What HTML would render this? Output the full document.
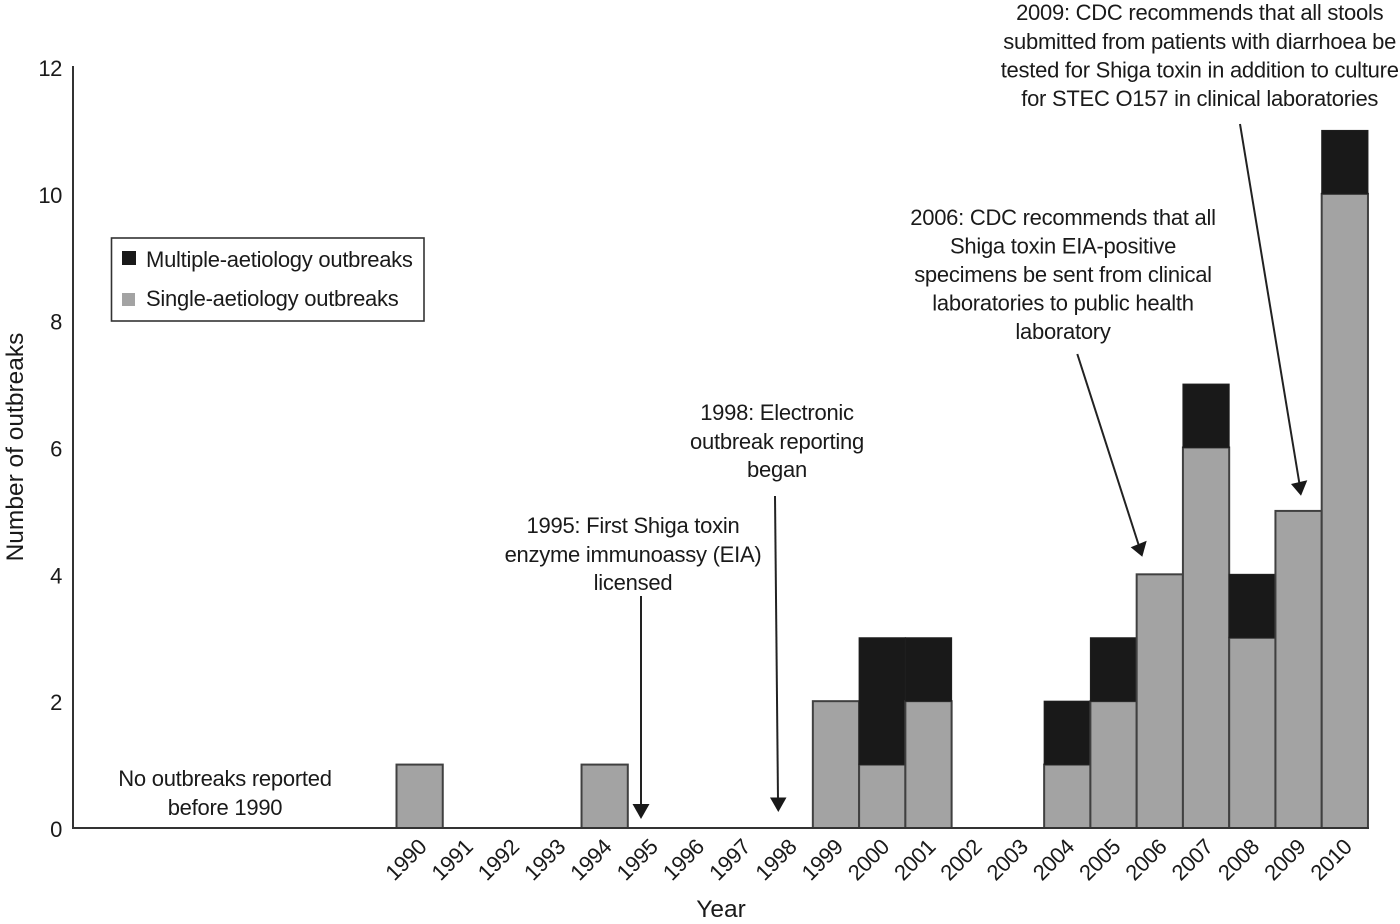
<!DOCTYPE html>
<html lang="en">
<head>
<meta charset="utf-8">
<title>Outbreaks by year</title>
<style>
html,body{margin:0;padding:0;background:#fff;}
svg{display:block;}
text{font-family:"Liberation Sans",sans-serif;font-size:22px;letter-spacing:-0.26px;fill:#1a1a1a;}
text.axis-title{font-size:24.5px;letter-spacing:0;}
text.tick{font-size:22px;letter-spacing:-0.4px;}
</style>
</head>
<body>
<svg id="chart" xmlns="http://www.w3.org/2000/svg" width="1400" height="924" viewBox="0 0 1400 924">
  <g id="bars"></g>
  <g id="axes"></g>

  <g>
    <rect x="111.5" y="238" width="312.5" height="83" fill="#fff" stroke="#333" stroke-width="1.6"/>
    <rect x="122" y="251" width="14" height="14" fill="#191919"/>
    <text x="146" y="267">Multiple-aetiology outbreaks</text>
    <rect x="122" y="293" width="13" height="13" fill="#a3a3a3"/>
    <text x="146" y="306">Single-aetiology outbreaks</text>
  </g>

  <g text-anchor="middle">
    <text x="225" y="786">No outbreaks reported</text>
    <text x="225" y="815">before 1990</text>
  </g>

  <g text-anchor="middle">
    <text x="633" y="533">1995: First Shiga toxin</text>
    <text x="633" y="562">enzyme immunoassy (EIA)</text>
    <text x="633" y="590">licensed</text>
  </g>
  <g>
    <line x1="641" y1="596" x2="641" y2="806" stroke="#222" stroke-width="2"/>
    <polygon points="632.5,804 649.5,804 641,819" fill="#191919"/>
  </g>

  <g text-anchor="middle">
    <text x="777" y="420">1998: Electronic</text>
    <text x="777" y="449">outbreak reporting</text>
    <text x="777" y="477">began</text>
  </g>
  <g>
    <line x1="775" y1="496" x2="778" y2="800" stroke="#222" stroke-width="2"/>
    <polygon points="770,797.500 786.500,797.500 778.300,812" fill="#191919"/>
  </g>

  <g text-anchor="middle">
    <text x="1063" y="225">2006: CDC recommends that all</text>
    <text x="1063" y="253.500">Shiga toxin EIA-positive</text>
    <text x="1063" y="282">specimens be sent from clinical</text>
    <text x="1063" y="310.500">laboratories to public health</text>
    <text x="1063" y="339">laboratory</text>
  </g>
  <g>
    <line x1="1077.300" y1="354" x2="1139" y2="546" stroke="#222" stroke-width="2"/>
    <polygon points="1130.700,547.300 1146.700,540.700 1142.300,556.700" fill="#191919"/>
  </g>

  <g text-anchor="middle">
    <text x="1199.700" y="20">2009: CDC recommends that all stools</text>
    <text x="1199.700" y="49">submitted from patients with diarrhoea be</text>
    <text x="1199.700" y="77.500">tested for Shiga toxin in addition to culture</text>
    <text x="1199.700" y="106">for STEC O157 in clinical laboratories</text>
  </g>
  <g>
    <line x1="1240" y1="124" x2="1299.500" y2="484" stroke="#222" stroke-width="2"/>
    <polygon points="1291,484 1307.300,480.300 1301,495.700" fill="#191919"/>
  </g>

  <text class="axis-title" x="721" y="917" text-anchor="middle">Year</text>
  <text class="axis-title" transform="translate(23,447) rotate(-90)" text-anchor="middle">Number of outbreaks</text>
</svg>
<script>
var years = [1990,1991,1992,1993,1994,1995,1996,1997,1998,1999,2000,2001,2002,2003,2004,2005,2006,2007,2008,2009,2010];
var singleAetiology = [1,0,0,0,1,0,0,0,0,2,1,2,0,0,1,2,4,6,3,5,10];
var multipleAetiology = [0,0,0,0,0,0,0,0,0,0,2,1,0,0,1,1,0,1,1,0,1];
var yTicks = [0,2,4,6,8,10,12];

var NS = 'http://www.w3.org/2000/svg';
var plot = {x0:396.5, bandW:46.26, yZero:828, yTop:67, yMax:12};

function xScale(i){ return plot.x0 + i*plot.bandW; }
function yScale(v){ return plot.yZero - (v/plot.yMax)*(plot.yZero-plot.yTop); }

function make(tag, attrs, parent){
  var el = document.createElementNS(NS, tag);
  for (var k in attrs) el.setAttribute(k, attrs[k]);
  parent.appendChild(el);
  return el;
}

var barsG = document.getElementById('bars');
var axesG = document.getElementById('axes');

years.forEach(function(year, i){
  var s = singleAetiology[i], m = multipleAetiology[i];
  if (s > 0) {
    var r = make('rect', {x:xScale(i), y:yScale(s), width:plot.bandW, height:yScale(0)-yScale(s), fill:'#a3a3a3', stroke:'#404040', 'stroke-width':2}, barsG);
    
    
  }
  if (m > 0) {
    var t = make('rect', {x:xScale(i), y:yScale(s+m), width:plot.bandW, height:yScale(s)-yScale(s+m), fill:'#191919', stroke:'#1f1f1f', 'stroke-width':1}, barsG);
    
    
  }
  var cx = xScale(i) + plot.bandW/2 - 8.5;
  var lbl = make('text', {'class':'tick', transform:'translate(' + cx + ',865) rotate(-45)', 'text-anchor':'middle'}, axesG);
  lbl.textContent = year;
  
  
});

yTicks.forEach(function(v){
  var lbl = make('text', {'class':'tick', x:62, y:yScale(v)+9, 'text-anchor':'end'}, axesG);
  lbl.textContent = v;
  
  
});

var yAxis = make('line', {x1:73, y1:66, x2:73, y2:829, stroke:'#333', 'stroke-width':2}, axesG);


var xAxis = make('line', {x1:72, y1:828, x2:xScale(years.length)+1, y2:828, stroke:'#333', 'stroke-width':2}, axesG);


</script>
</body>
</html>
